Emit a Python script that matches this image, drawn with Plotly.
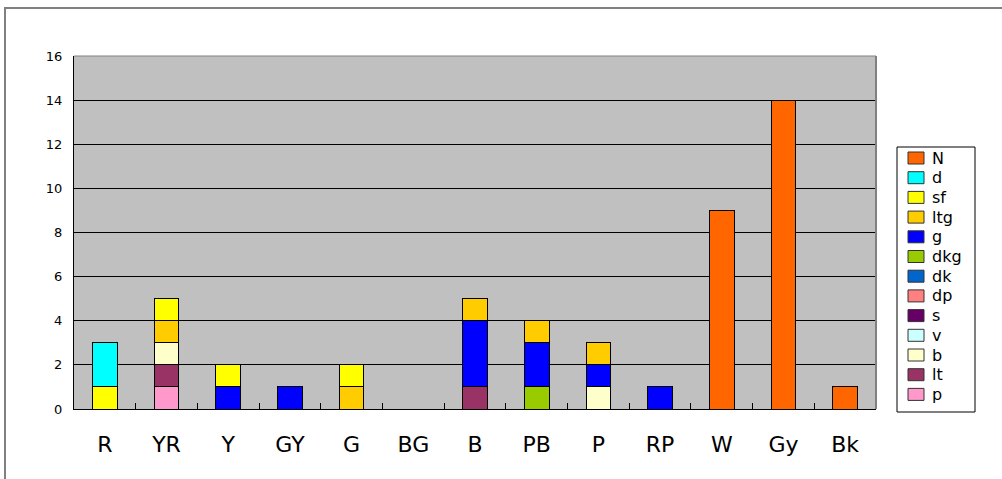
import plotly.graph_objects as go

# Hue categories along the x axis
categories = ["R", "YR", "Y", "GY", "G", "BG", "B", "PB", "P", "RP", "W", "Gy", "Bk"]

# Tone series, stacked from the bottom (p) to the top (N)
p   = [0, 1, 0, 0, 0, 0, 0, 0, 0, 0, 0, 0, 0]
lt  = [0, 1, 0, 0, 0, 0, 1, 0, 0, 0, 0, 0, 0]
b   = [0, 1, 0, 0, 0, 0, 0, 0, 1, 0, 0, 0, 0]
v   = [0, 0, 0, 0, 0, 0, 0, 0, 0, 0, 0, 0, 0]
s   = [0, 0, 0, 0, 0, 0, 0, 0, 0, 0, 0, 0, 0]
dp  = [0, 0, 0, 0, 0, 0, 0, 0, 0, 0, 0, 0, 0]
dk  = [0, 0, 0, 0, 0, 0, 0, 0, 0, 0, 0, 0, 0]
dkg = [0, 0, 0, 0, 0, 0, 0, 1, 0, 0, 0, 0, 0]
g   = [0, 0, 1, 1, 0, 0, 3, 2, 1, 1, 0, 0, 0]
ltg = [0, 1, 0, 0, 1, 0, 1, 1, 1, 0, 0, 0, 0]
sf  = [1, 1, 1, 0, 1, 0, 0, 0, 0, 0, 0, 0, 0]
d   = [2, 0, 0, 0, 0, 0, 0, 0, 0, 0, 0, 0, 0]
N   = [0, 0, 0, 0, 0, 0, 0, 0, 0, 0, 9, 14, 1]

y_ticks = [0, 2, 4, 6, 8, 10, 12, 14, 16]

series = [
    ("p", p, "#FF99CC"),
    ("lt", lt, "#993366"),
    ("b", b, "#FFFFCC"),
    ("v", v, "#CCFFFF"),
    ("s", s, "#660066"),
    ("dp", dp, "#FF8080"),
    ("dk", dk, "#0066CC"),
    ("dkg", dkg, "#99CC00"),
    ("g", g, "#0000FF"),
    ("ltg", ltg, "#FFCC00"),
    ("sf", sf, "#FFFF00"),
    ("d", d, "#00FFFF"),
    ("N", N, "#FF6600"),
]

FONT = "DejaVu Sans, Arial, sans-serif"

W, H = 1002, 479
ML, MR, MT, MB = 74, 126, 56, 70
PW, PH = W - ML - MR, H - MT - MB


def fx(px):
    """Pixel x -> paper x."""
    return (px - ML) / PW


def fy(py):
    """Pixel y (from top) -> paper y."""
    return (H - MB - py) / PH


fig = go.Figure()
for name, vals, color in series:
    fig.add_trace(go.Bar(
        name=name,
        x=categories,
        y=[val if val else None for val in vals],
        marker=dict(color=color, line=dict(color="#000000", width=1)),
        showlegend=False,
    ))

shapes = [
    # grey frame on the top and right of the plot area
    dict(type="line", xref="paper", yref="paper", x0=0, x1=1, y0=1, y1=1,
         line=dict(color="#808080", width=1)),
    dict(type="line", xref="paper", yref="paper", x0=1, x1=1, y0=0, y1=1,
         line=dict(color="#808080", width=2)),
    # chart-area border
    dict(type="rect", xref="paper", yref="paper",
         x0=fx(5), x1=fx(1040), y0=fy(520), y1=fy(8),
         line=dict(color="#808080", width=2), layer="below"),
    # legend box
    dict(type="rect", xref="paper", yref="paper",
         x0=fx(897), x1=fx(975), y0=fy(412), y1=fy(147),
         line=dict(color="#000000", width=1), fillcolor="#FFFFFF"),
]
annotations = []

# legend entries, top entry = top of the stack
for i, (name, _, color) in enumerate(reversed(series)):
    cy = 158 + i * 19.7
    shapes.append(dict(
        type="rect", xref="paper", yref="paper",
        x0=fx(908), x1=fx(924), y0=fy(cy + 6), y1=fy(cy - 6),
        fillcolor=color, line=dict(color="#333333", width=1),
    ))
    annotations.append(dict(
        xref="paper", yref="paper", x=fx(930), y=fy(cy),
        xanchor="left", yanchor="middle", showarrow=False,
        text=name, font=dict(size=16, family=FONT, color="#000000"),
    ))

fig.update_layout(
    width=W, height=H,
    margin=dict(l=ML, r=MR, t=MT, b=MB),
    barmode="stack",
    bargap=0.6,
    plot_bgcolor="#C0C0C0",
    paper_bgcolor="#FFFFFF",
    font=dict(family=FONT, color="#000000"),
    showlegend=False,
    xaxis=dict(
        type="category",
        showline=True, linecolor="#000000", linewidth=1,
        ticks="inside", tickson="boundaries", ticklen=6, tickcolor="#000000",
        tickfont=dict(size=22, family=FONT),
        ticklabelstandoff=16,
        showgrid=False,
    ),
    yaxis=dict(
        range=[0, 16],
        tickvals=y_ticks,
        showline=True, linecolor="#000000", linewidth=1,
        ticks="inside", ticklen=4, tickcolor="#000000",
        tickfont=dict(size=13, family=FONT),
        ticklabelstandoff=8,
        showgrid=True, gridcolor="#000000", gridwidth=1,
        zeroline=False,
    ),
    shapes=shapes,
    annotations=annotations,
)

fig.write_html("out.html")
